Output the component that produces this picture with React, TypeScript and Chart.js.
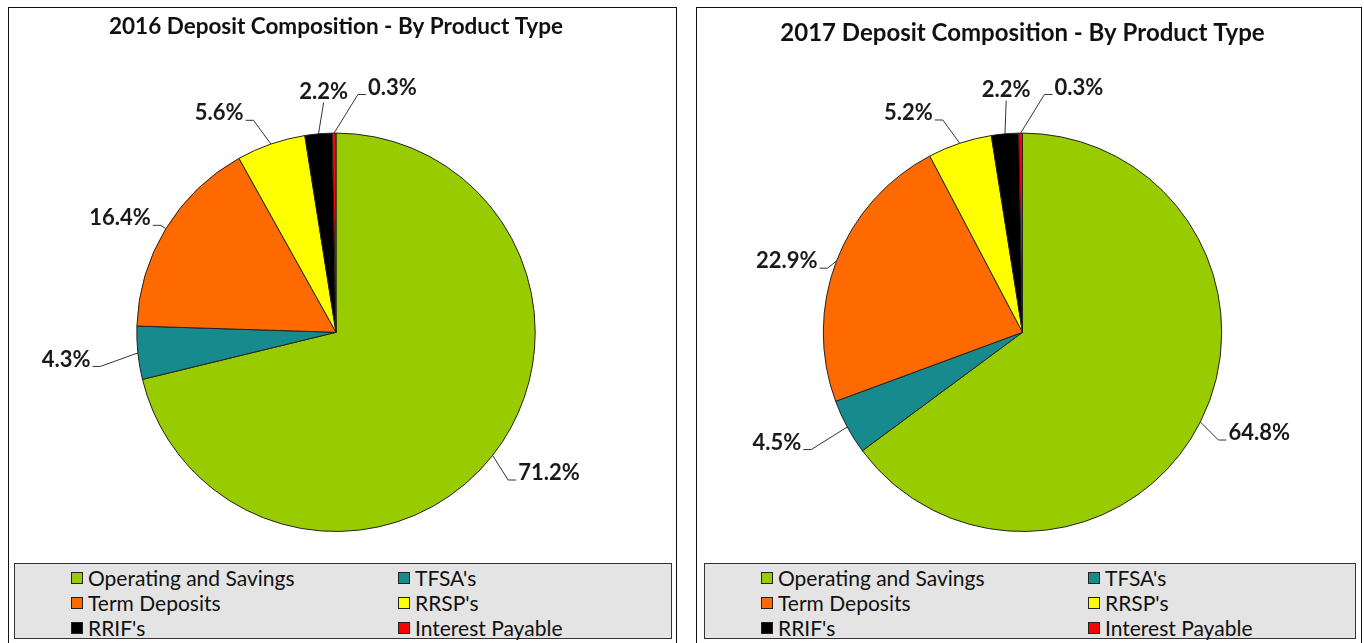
import React, { useEffect, useRef } from "react";
import { Chart, registerables } from "chart.js";

Chart.register(...registerables);

const categories = [
  "Operating and Savings",
  "TFSA's",
  "Term Deposits",
  "RRSP's",
  "RRIF's",
  "Interest Payable",
];
const values2016 = [71.2, 4.3, 16.4, 5.6, 2.2, 0.3];
const values2017 = [64.8, 4.5, 22.9, 5.2, 2.2, 0.3];
const title2016 = "2016 Deposit Composition - By Product Type";
const title2017 = "2017 Deposit Composition - By Product Type";

const sliceColors = ["#99CC00", "#168A8C", "#FF6A00", "#FFFF00", "#000000", "#FF0000"];

// label placement tweaks (degrees / px) – layout only
const labelNudge2016 = [-4.7, 0.2, -3.5, -9, 2.1, 13.5];
const labelNudge2017 = [-3.7, 4.2, -4.2, -9.1, 1.2, 13.5];
const labelGap2016 = [56, 72, 45, 49, 42, 52];
const labelGap2017 = [58, 70, 47, 48, 44, 52];

const FONT = "Lato, 'Open Sans', sans-serif";

const pieLabelPlugin = {
  id: "pieLabels",
  afterDatasetsDraw(chart: any, _args: any, opts: any) {
    const meta = chart.getDatasetMeta(0);
    const ds = chart.data.datasets[0];
    const ctx = chart.ctx as CanvasRenderingContext2D;
    ctx.save();
    ctx.font = `bold 22px ${FONT}`;
    ctx.strokeStyle = "#333";
    ctx.lineWidth = 1;
    meta.data.forEach((arc: any, i: number) => {
      const p = arc.getProps(["x", "y", "startAngle", "endAngle", "outerRadius"], true);
      const mid = (p.startAngle + p.endAngle) / 2;
      const la = mid + ((opts.nudge[i] || 0) * Math.PI) / 180;
      const dist = p.outerRadius + (opts.gap[i] || 50);
      const cx = p.x + Math.cos(la) * dist;
      const cy = p.y + Math.sin(la) * dist;
      const text = Number(ds.data[i]).toFixed(1) + "%";
      const w = ctx.measureText(text).width;
      ctx.fillStyle = "#1a1a1a";
      ctx.textAlign = "center";
      ctx.textBaseline = "middle";
      ctx.fillText(text, cx, cy);
      const ax = p.x + Math.cos(mid) * p.outerRadius;
      const ay = p.y + Math.sin(mid) * p.outerRadius;
      ctx.beginPath();
      if (Math.abs(Math.cos(la)) < 0.15) {
        ctx.moveTo(cx, cy + 11);
        ctx.lineTo(ax, ay);
      } else {
        const side = Math.cos(la) > 0 ? -1 : 1;
        const sx = cx + side * (w / 2 + 2);
        const sy = cy + 7;
        ctx.moveTo(sx, sy);
        ctx.lineTo(sx + side * 8, sy);
        ctx.lineTo(ax, ay);
      }
      ctx.stroke();
    });
    ctx.restore();
  },
};

type PanelProps = {
  left: number;
  width: number;
  title: string;
  titleSize: number;
  titleTop: number;
  values: number[];
  nudge: number[];
  gap: number[];
  legendLeft: number;
  legendWidth: number;
};

function PiePanel(props: PanelProps) {
  const ref = useRef<HTMLCanvasElement | null>(null);
  const canvasW = props.width - 2;
  const canvasH = 555;
  useEffect(() => {
    if (!ref.current) return;
    const lineH = props.titleSize * 1.2;
    const chart = new Chart(ref.current, {
      type: "pie",
      data: {
        labels: categories,
        datasets: [
          {
            data: props.values,
            backgroundColor: sliceColors,
            borderColor: "#222",
            borderWidth: 1,
          },
        ],
      },
      options: {
        responsive: false,
        animation: false,
        devicePixelRatio: 1,
        layout: { padding: { left: 0, right: 13, top: 0, bottom: 31 } },
        plugins: {
          legend: { display: false },
          tooltip: { enabled: false },
          title: {
            display: true,
            text: props.title,
            color: "#111",
            font: { family: FONT, size: props.titleSize, weight: "bold", lineHeight: 1.2 },
            padding: { top: props.titleTop, bottom: 124.6 - props.titleTop - lineH },
          },
          pieLabels: { nudge: props.nudge, gap: props.gap },
        } as any,
      },
      plugins: [pieLabelPlugin],
    });
    return () => chart.destroy();
  }, []);

  const rows = [
    [0, 1],
    [2, 3],
    [4, 5],
  ];
  return (
    <div
      style={{
        position: "absolute",
        left: props.left,
        top: 7,
        width: props.width,
        height: 660,
        boxSizing: "border-box",
        border: "1px solid #111",
        background: "#fff",
      }}
    >
      <canvas ref={ref} width={canvasW} height={canvasH} style={{ display: "block" }} />
      <div
        style={{
          position: "absolute",
          left: props.legendLeft,
          top: 555,
          width: props.legendWidth,
          height: 76,
          boxSizing: "border-box",
          border: "1px solid #333",
          background: "#e4e4e4",
          fontFamily: FONT,
          fontSize: 21,
          color: "#111",
        }}
      >
        {rows.map((r, ri) =>
          r.map((idx, ci) => (
            <div
              key={idx}
              style={{
                position: "absolute",
                left: ci === 0 ? 56 : 383,
                top: 1 + ri * 25,
                height: 25,
                display: "flex",
                alignItems: "center",
                whiteSpace: "nowrap",
              }}
            >
              <span
                style={{
                  display: "inline-block",
                  width: 10,
                  height: 10,
                  border: "1px solid #222",
                  background: sliceColors[idx],
                  marginRight: 5,
                }}
              />
              <span>{categories[idx]}</span>
            </div>
          ))
        )}
      </div>
    </div>
  );
}

export default function App() {
  return (
    <div
      style={{
        position: "fixed",
        left: 0,
        top: 0,
        width: 1364,
        height: 643,
        overflow: "hidden",
        background: "#fff",
      }}
    >
      <PiePanel
        left={8}
        width={669}
        title={title2016}
        titleSize={22.5}
        titleTop={5}
        values={values2016}
        nudge={labelNudge2016}
        gap={labelGap2016}
        legendLeft={5}
        legendWidth={658}
      />
      <PiePanel
        left={696}
        width={666}
        title={title2017}
        titleSize={24}
        titleTop={11}
        values={values2017}
        nudge={labelNudge2017}
        gap={labelGap2017}
        legendLeft={7}
        legendWidth={652}
      />
    </div>
  );
}
